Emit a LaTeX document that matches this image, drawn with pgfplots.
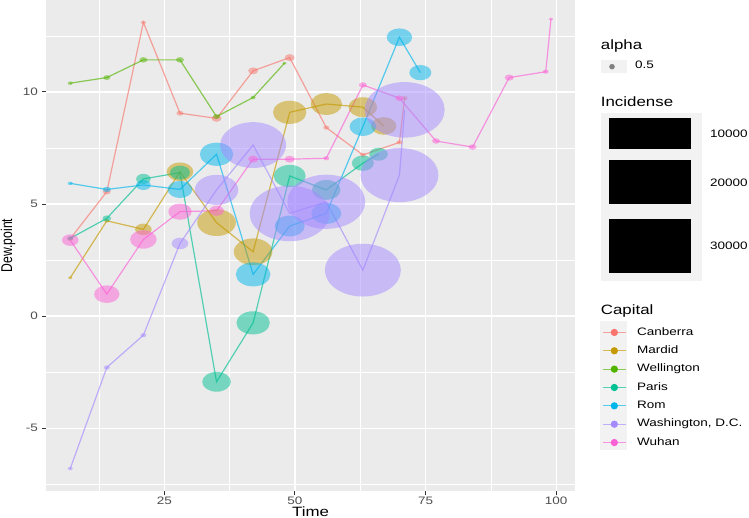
\documentclass[border=0pt]{standalone}
\usepackage{pgfplots}
\pgfplotsset{compat=1.18}
\usepackage{pgfplotstable}
\usepackage{fontspec}
\setmainfont{Liberation Sans}
\newfontfamily\ggf{Liberation Sans}[FakeStretch=1.25]
\newfontfamily\ggrot{Liberation Sans}[FakeStretch=0.78]
\newcommand\ttl{\ggf\fontsize{13.5}{16}\selectfont}
\newcommand\lbl{\ggf\fontsize{10.8}{13}\selectfont}

\definecolor{cCan}{HTML}{F8766D}
\definecolor{cMad}{HTML}{C49A00}
\definecolor{cWel}{HTML}{53B400}
\definecolor{cPar}{HTML}{00C094}
\definecolor{cRom}{HTML}{00B6EB}
\definecolor{cWas}{HTML}{A58AFF}
\definecolor{cWuh}{HTML}{FB61D7}
\definecolor{ggbg}{HTML}{EBEBEB}
\definecolor{gg95}{HTML}{F2F2F2}
\definecolor{gg30}{HTML}{4D4D4D}
\definecolor{gg20}{HTML}{333333}

\pgfplotstableread{
x y r
7 3.45 3
14 5.55 4
21 13.1 2.5
28 9.05 3.5
35 8.82 5
42 10.94 5
49 11.53 5
56 8.41 3
63 7.19 3
70 7.75 3
71 9.72 3
}\canberra
\pgfplotstableread{
x y r
7 1.71 2
14 4.25 2.5
21 3.87 8.3
28 6.44 13.3
35 4.17 19.3
42 2.87 19.3
49 9.09 16.7
56 9.46 15.7
63 9.32 14.3
67 8.48 12.7
}\mardid
\pgfplotstableread{
x y r
7 10.39 2.5
14 10.64 3.5
21 11.43 4
28 11.43 4
35 8.90 3.5
42 9.75 2.5
48 11.28 2
}\wellington
\pgfplotstableread{
x y r
7 3.47 3
14 4.36 4.3
21 6.12 7.3
28 6.40 10
35 -2.93 14.3
42 -0.30 16.7
49 6.25 16
56 5.63 14.3
63 6.82 11
66 7.22 9.3
}\paris
\pgfplotstableread{
x y r
7 5.92 2.5
14 5.65 4
21 5.85 7.3
28 5.65 12.3
35 7.22 16.7
42 1.86 17.3
49 4.02 15
56 4.58 15
63 8.45 13.3
70 12.44 12.7
74 10.86 11
}\rom
\pgfplotstableread{
x y r
7 -6.80 2.5
14 -2.29 3
21 -0.85 3
28 3.24 8.3
35 5.63 21.7
42 7.63 33
49 4.58 40
56 5.10 39
63 2.05 38
70 6.29 39
71 9.20 40
}\washington
\pgfplotstableread{
x y r
7 3.39 8.3
14 0.98 12.7
21 3.42 13.3
28 4.66 11.7
35 4.70 7.3
42 7.00 5
49 7.00 5
56 7.04 3
63 10.31 4
70 9.72 4
77 7.81 4
84 7.54 4
91 10.64 4.5
98 10.90 3
99 13.25 2
}\wuhan

\pgfplotsset{
  ln/.style={#1, line width=1.2pt, opacity=0.65},
  bub/.style={only marks, scatter, mark=*, forget plot,
    scatter/use mapped color={draw=none, fill=#1},
    mark options={yscale=0.694, fill opacity=0.5, draw opacity=0},
    visualization depends on={\thisrow{r} \as \rr},
    scatter/@pre marker code/.append style={/tikz/mark size=\rr}},
}

\begin{document}
\begin{tikzpicture}
\path[use as bounding box] (0pt,0pt) rectangle (749pt,518pt);
% overlay axis for the right-hand legends (coordinates in picture units)
\begin{axis}[hide axis, scale only axis, width=749pt, height=518pt,
  xmin=0, xmax=749, ymin=0, ymax=518, at={(0pt,0pt)}, anchor=south west, clip=false]
  \fill[gg95] (axis cs:600.7,444.7) rectangle (axis cs:627.3,458);
  \addplot[only marks, mark=*, mark size=2.5, color=black!50] coordinates {(612,451.3)};
  \fill[gg95] (axis cs:600.7,237) rectangle (axis cs:701.7,405);
  \fill[black] (axis cs:609,368.7) rectangle (axis cs:691,400.3);
  \fill[black] (axis cs:609,313.7) rectangle (axis cs:691,357.7);
  \fill[black] (axis cs:609,244.7) rectangle (axis cs:691,298.7);
  \fill[gg95] (axis cs:600,68) rectangle (axis cs:627,197.3);
  \node[anchor=base west, inner sep=0pt, font=\ttl] at (axis cs:600.7,468) {alpha};
  \node[anchor=base west, inner sep=0pt, font=\lbl] at (axis cs:635,449.7) {0.5};
  \node[anchor=base west, inner sep=0pt, font=\ttl] at (axis cs:600.7,411.3) {Incidense};
  \node[anchor=base west, inner sep=0pt, font=\lbl] at (axis cs:710,380.3) {10000};
  \node[anchor=base west, inner sep=0pt, font=\lbl] at (axis cs:710,331.3) {20000};
  \node[anchor=base west, inner sep=0pt, font=\lbl] at (axis cs:710,268) {30000};
  \node[anchor=base west, inner sep=0pt, font=\ttl] at (axis cs:600.7,203) {Capital};
\end{axis}
\begin{axis}[
  at={(46.2pt,27pt)}, anchor=south west,
  scale only axis, width=528.8pt, height=491pt,
  xmin=2.4, xmax=103.6, ymin=-7.8, ymax=14.1,
  xtick={25,50,75,100}, ytick={-5,0,5,10},
  minor xtick={12.5,37.5,62.5,87.5}, minor ytick={-7.5,-2.5,2.5,7.5,12.5},
  grid=both,
  major grid style={white, line width=1.3pt},
  minor grid style={white, line width=0.65pt},
  axis background/.style={fill=ggbg},
  axis line style={draw=none},
  tick align=outside, xtick pos=bottom, ytick pos=left,
  major tick length=4.5pt, minor tick length=0pt,
  every tick/.style={gg20, line width=1pt},
  tick label style={font=\lbl, text=gg30},
  xticklabel style={inner sep=1pt},
  yticklabel style={inner sep=3.5pt},
  /pgf/number format/assume math mode=true,
  xlabel={Time}, ylabel={Dew.point},
  xlabel style={at={(axis description cs:0.5,-0.0422)}, anchor=center, font=\ttl},
  ylabel style={at={(axis description cs:-0.0722,0.5)}, anchor=center, rotate=0, font=\ggrot\fontsize{15.6}{18}\selectfont},
  legend image code/.code={\draw (0pt,0pt) -- (23pt,0pt); \fill[opacity=1] (11.5pt,0pt) circle (3pt);},
  legend style={at={(axis description cs:1.0511,0.3336)}, anchor=north west,
    draw=none, fill=none, inner sep=0pt, font=\lbl, column sep=10.7pt, row sep=8.25pt,
    nodes={inner sep=0pt, text height=7.8pt, text depth=2.3pt}},
  legend cell align=left,
]
\addplot[ln=cCan] table[x=x,y=y] {\canberra}; \addlegendentry{Canberra}
\addplot[ln=cMad] table[x=x,y=y] {\mardid}; \addlegendentry{Mardid}
\addplot[ln=cWel] table[x=x,y=y] {\wellington}; \addlegendentry{Wellington}
\addplot[ln=cPar] table[x=x,y=y] {\paris}; \addlegendentry{Paris}
\addplot[ln=cRom] table[x=x,y=y] {\rom}; \addlegendentry{Rom}
\addplot[ln=cWas] table[x=x,y=y] {\washington}; \addlegendentry{Washington, D.C.}
\addplot[ln=cWuh] table[x=x,y=y] {\wuhan}; \addlegendentry{Wuhan}

\addplot[bub=cCan] table[x=x,y=y] {\canberra};
\addplot[bub=cMad] table[x=x,y=y] {\mardid};
\addplot[bub=cWel] table[x=x,y=y] {\wellington};
\addplot[bub=cPar] table[x=x,y=y] {\paris};
\addplot[bub=cRom] table[x=x,y=y] {\rom};
\addplot[bub=cWas] table[x=x,y=y] {\washington};
\addplot[bub=cWuh] table[x=x,y=y] {\wuhan};
\end{axis}
\end{tikzpicture}
\end{document}
